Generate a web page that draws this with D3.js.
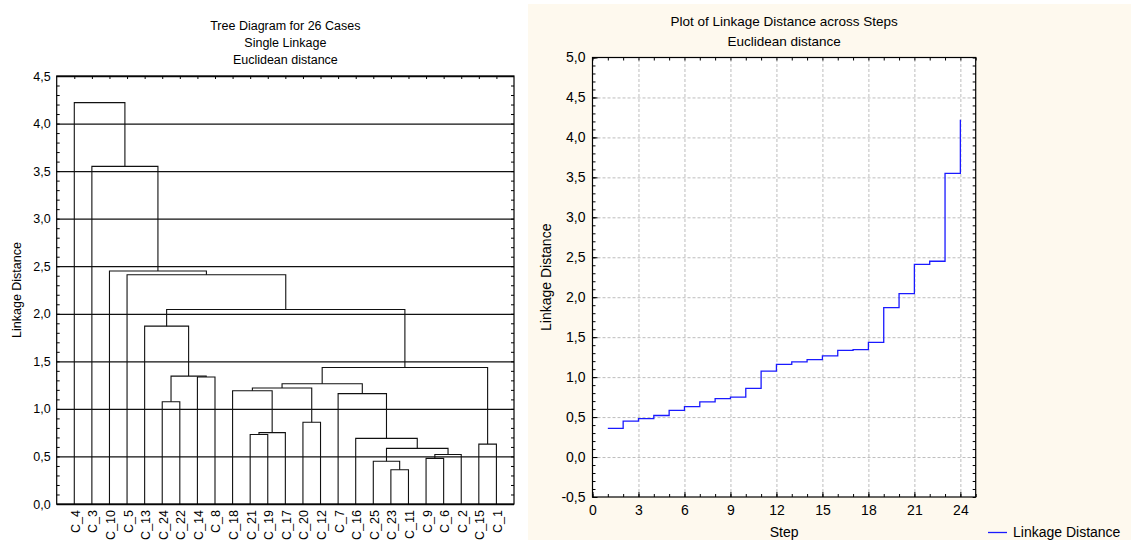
<!DOCTYPE html>
<html>
<head>
<meta charset="utf-8">
<script src="https://cdn.jsdelivr.net/npm/d3@7"></script>
<style>
  body { margin: 0; background: #ffffff; }
  svg { display: block; font-family: "Liberation Sans", Arial, sans-serif; }
</style>
</head>
<body>
<svg id="chart" width="1131" height="540"></svg>
<script>
// ---- data ----
const leafOrder = ["C_4","C_3","C_10","C_5","C_13","C_24","C_22","C_14","C_8","C_18","C_21","C_19","C_17","C_20","C_12","C_7","C_16","C_25","C_23","C_11","C_9","C_6","C_2","C_15","C_1"];
// amalgamation schedule: the two members joined at each step ("#n" = cluster formed at step n)
const joinA = ["C_23","C_25","C_9","#3","#2","C_15","C_16","C_21","#8","C_20","C_24","C_7","C_18","#13","#14","C_14","#11","#15","C_13","#19","C_5","C_10","C_3","C_4"];
const joinB = ["C_11","#1","C_6","C_2","#4","C_1","#5","C_19","C_17","C_12","C_22","#7","#9","#10","#12","C_8","#16","#6","#17","#18","#20","#21","#22","#23"];
const linkageDistance = [0.36,0.45,0.48,0.52,0.585,0.63,0.69,0.73,0.75,0.86,1.075,1.16,1.19,1.22,1.265,1.335,1.345,1.435,1.87,2.045,2.41,2.45,3.55,4.22];
const treeTicks = [0,0.5,1,1.5,2,2.5,3,3.5,4,4.5];
const stepTicks = [0,3,6,9,12,15,18,21,24];
const distTicks = [-0.5,0,0.5,1,1.5,2,2.5,3,3.5,4,4.5,5];

const locale = d3.formatLocale({decimal: ",", thousands: ".", grouping: [3], currency: ["", ""], minus: "-"});
const fmt1 = locale.format(".1f");

const svg = d3.select("#chart");

// ================= Tree diagram =================
const T = {left: 56.7, right: 514, top: 76, bottom: 504};
const tx = d3.scalePoint().domain(leafOrder).range([T.left, T.right]).padding(1);
const ty = d3.scaleLinear().domain([0, 4.5]).range([T.bottom, T.top]);

const gT = svg.append("g");

gT.append("g").attr("font-size", 12.5).attr("text-anchor", "middle").attr("fill", "#000")
  .selectAll("text").data(["Tree Diagram for 26 Cases", "Single Linkage", "Euclidean distance"])
  .join("text").attr("x", (T.left + T.right) / 2).attr("y", (d, i) => 30 + i * 17).text(d => d);

// horizontal reference lines with labels
gT.append("g").attr("transform", `translate(${T.left},0)`)
  .call(d3.axisLeft(ty).tickValues(treeTicks).tickSize(-(T.right - T.left)).tickPadding(6).tickFormat(fmt1))
  .call(g => g.select(".domain").remove())
  .call(g => g.selectAll(".tick line").attr("stroke", "#111").attr("stroke-width", 1.3))
  .call(g => g.selectAll("text").attr("font-size", 12.5).attr("fill", "#000").attr("font-family", "Liberation Sans, Arial, sans-serif"));

// minor ticks on both sides, pointing inward
const treeMinor = d3.range(0, 45.5).map(i => i / 10);
gT.append("g").attr("transform", `translate(${T.left},0)`)
  .call(d3.axisLeft(ty).tickValues(treeMinor).tickSize(-3).tickFormat(""))
  .call(g => g.select(".domain").remove());
gT.append("g").attr("transform", `translate(${T.right},0)`)
  .call(d3.axisRight(ty).tickValues(treeMinor).tickSize(-3).tickFormat(""))
  .call(g => g.select(".domain").remove());
gT.append("g").attr("transform", `translate(0,${T.top})`)
  .call(d3.axisTop(tx).tickSize(-3).tickFormat(""))
  .call(g => g.select(".domain").remove());

// leaf labels
gT.append("g").attr("font-size", 12.5).attr("fill", "#000").attr("text-anchor", "end")
  .selectAll("text").data(leafOrder).join("text")
  .attr("transform", d => `translate(${tx(d) + 5.5},${T.bottom + 6}) rotate(-90)`)
  .text(d => d);

gT.append("text").attr("font-size", 12.5).attr("text-anchor", "middle")
  .attr("transform", `translate(21,${(T.top + T.bottom) / 2}) rotate(-90)`)
  .text("Linkage Distance");

// build node positions from the schedule
const nodeX = {}, nodeH = {};
leafOrder.forEach(n => { nodeX[n] = tx(n); nodeH[n] = 0; });
const links = [];
joinA.forEach((a, i) => {
  const b = joinB[i], h = linkageDistance[i], id = "#" + (i + 1);
  links.push({x1: nodeX[a], h1: nodeH[a], x2: nodeX[b], h2: nodeH[b], h});
  nodeX[id] = (nodeX[a] + nodeX[b]) / 2;
  nodeH[id] = h;
});
gT.append("g").attr("fill", "none").attr("stroke", "#111").attr("stroke-width", 1.1)
  .selectAll("path").data(links).join("path")
  .attr("d", d => `M${d.x1},${ty(d.h1)}V${ty(d.h)}H${d.x2}V${ty(d.h2)}`);

gT.append("rect").attr("x", T.left).attr("y", T.top).attr("width", T.right - T.left).attr("height", T.bottom - T.top)
  .attr("fill", "none").attr("stroke", "#000").attr("stroke-width", 1.2);

// ================= Linkage distance across steps =================
svg.append("rect").attr("x", 528).attr("y", 4).attr("width", 1131 - 528).attr("height", 540 - 4).attr("fill", "#fef9ee");

const S = {left: 592.5, right: 975.7, top: 57.5, bottom: 497};
const sx = d3.scaleLinear().domain([0, 25]).range([S.left, S.right]);
const sy = d3.scaleLinear().domain([-0.5, 5]).range([S.bottom, S.top]);
const gS = svg.append("g");

gS.append("rect").attr("x", S.left).attr("y", S.top).attr("width", S.right - S.left).attr("height", S.bottom - S.top).attr("fill", "#fff");

gS.append("g").attr("font-size", 13.5).attr("text-anchor", "middle")
  .selectAll("text").data(["Plot of Linkage Distance across Steps", "Euclidean distance"])
  .join("text").attr("x", (S.left + S.right) / 2).attr("y", (d, i) => 26 + i * 20).text(d => d);

// dashed grid
gS.append("g").attr("transform", `translate(${S.left},0)`)
  .call(d3.axisLeft(sy).tickValues(distTicks.slice(1, -1)).tickSize(-(S.right - S.left)).tickFormat(""))
  .call(g => g.select(".domain").remove())
  .call(g => g.selectAll(".tick line").attr("stroke", "#bdbdbd").attr("stroke-dasharray", "3,2"));
gS.append("g").attr("transform", `translate(0,${S.bottom})`)
  .call(d3.axisBottom(sx).tickValues(stepTicks.slice(1)).tickSize(-(S.bottom - S.top)).tickFormat(""))
  .call(g => g.select(".domain").remove())
  .call(g => g.selectAll(".tick line").attr("stroke", "#bdbdbd").attr("stroke-dasharray", "3,2"));

// labelled axes
gS.append("g").attr("transform", `translate(${S.left},0)`)
  .call(d3.axisLeft(sy).tickValues(distTicks).tickSize(-5).tickPadding(7).tickFormat(fmt1))
  .call(g => g.select(".domain").remove())
  .call(g => g.selectAll("text").attr("font-size", 14).attr("fill", "#000").attr("font-family", "Liberation Sans, Arial, sans-serif"));
gS.append("g").attr("transform", `translate(0,${S.bottom})`)
  .call(d3.axisBottom(sx).tickValues(stepTicks).tickSize(-5).tickPadding(8).tickFormat(d3.format("d")))
  .call(g => g.select(".domain").remove())
  .call(g => g.selectAll("text").attr("font-size", 14).attr("fill", "#000").attr("font-family", "Liberation Sans, Arial, sans-serif"));

// minor inward ticks on all four sides
const distMinor = d3.range(-5, 50.5).map(i => i / 10);
const stepMinor = d3.range(0, 26);
gS.append("g").attr("transform", `translate(${S.left},0)`)
  .call(d3.axisLeft(sy).tickValues(distMinor).tickSize(-3).tickFormat("")).call(g => g.select(".domain").remove());
gS.append("g").attr("transform", `translate(${S.right},0)`)
  .call(d3.axisRight(sy).tickValues(distMinor).tickSize(-3).tickFormat("")).call(g => g.select(".domain").remove());
gS.append("g").attr("transform", `translate(0,${S.bottom})`)
  .call(d3.axisBottom(sx).tickValues(stepMinor).tickSize(-3).tickFormat("")).call(g => g.select(".domain").remove());
gS.append("g").attr("transform", `translate(0,${S.top})`)
  .call(d3.axisTop(sx).tickValues(stepMinor).tickSize(-3).tickFormat("")).call(g => g.select(".domain").remove());

gS.append("rect").attr("x", S.left).attr("y", S.top).attr("width", S.right - S.left).attr("height", S.bottom - S.top)
  .attr("fill", "none").attr("stroke", "#000").attr("stroke-width", 1.2);

// step line
const steps = linkageDistance.map((v, i) => [i + 1, v]);
gS.append("path").datum(steps)
  .attr("fill", "none").attr("stroke", "#1a1aff").attr("stroke-width", 1.3)
  .attr("d", d3.line().x(d => sx(d[0])).y(d => sy(d[1])).curve(d3.curveStepAfter));

gS.append("text").attr("font-size", 14).attr("text-anchor", "middle")
  .attr("x", (S.left + S.right) / 2).attr("y", 537).text("Step");
gS.append("text").attr("font-size", 14).attr("text-anchor", "middle")
  .attr("transform", `translate(551,${(S.top + S.bottom) / 2}) rotate(-90)`)
  .text("Linkage Distance");

// legend
gS.append("line").attr("x1", 988).attr("x2", 1007).attr("y1", 532.5).attr("y2", 532.5)
  .attr("stroke", "#1a1aff").attr("stroke-width", 1.3);
gS.append("text").attr("font-size", 14).attr("x", 1013).attr("y", 536.5).text("Linkage Distance");
</script>
</body>
</html>
